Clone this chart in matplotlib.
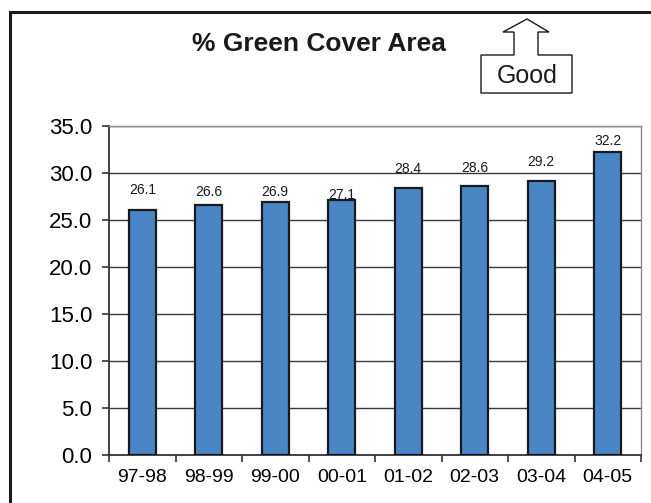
import numpy as np
import matplotlib
matplotlib.use("Agg")
import matplotlib.pyplot as plt
from matplotlib.patches import Rectangle, Polygon

plt.rcParams['font.family'] = ['Liberation Sans', 'DejaVu Sans']

# green cover share by year
years = ['97-98', '98-99', '99-00', '00-01', '01-02', '02-03', '03-04', '04-05']
green_cover = [26.1, 26.6, 26.9, 27.1, 28.4, 28.6, 29.2, 32.2]
# how far each value label sits above its bar (points)
label_lift = [14, 9, 7, 4, 14, 13, 13, 8]

W, H = 651, 503
fig = plt.figure(figsize=(W / 100, H / 100), dpi=100)
fig.patch.set_facecolor('white')

def px(x, y):
    # pixel position (from top-left) -> figure fraction
    return x / W, 1 - y / H

ax = fig.add_axes([109 / W, 48 / H, 532 / W, 329 / H])

x = np.arange(len(years))
ax.bar(x, green_cover, width=0.4, color='#4a86c6', edgecolor='#1a1a1a',
       linewidth=1.6, zorder=3)

for xi, v, lift in zip(x, green_cover, label_lift):
    ax.annotate(f'{v:.1f}', (xi, v), xytext=(0, lift), textcoords='offset points',
                ha='center', va='center', fontsize=10, color='#1a1a1a')

ax.set_xlim(-0.5, len(years) - 0.5)
ax.set_ylim(0, 35)
ax.set_yticks(np.arange(0, 35.1, 5))
ax.set_yticklabels([f'{t:.1f}' for t in np.arange(0, 35.1, 5)])
ax.yaxis.grid(True, color='#3a3a3a', linewidth=1.0, zorder=0)
ax.set_axisbelow(True)

# category ticks sit between bars, labels centred under them
ax.set_xticks(np.arange(-0.5, len(years), 1.0))
ax.set_xticklabels([])
ax.set_xticks(x, minor=True)
ax.set_xticklabels(years, minor=True, fontsize=14)
ax.tick_params(axis='x', which='minor', length=0, pad=10)
ax.tick_params(axis='x', which='major', length=5, width=1.2, color='#333333')
ax.tick_params(axis='y', labelsize=16, length=5, width=1.2, color='#333333', pad=7)

for side in ['left', 'bottom']:
    ax.spines[side].set_color('#333333')
    ax.spines[side].set_linewidth(1.3)
for side in ['top', 'right']:
    ax.spines[side].set_color('#8a8a8a')
    ax.spines[side].set_linewidth(1.0)

# outer frame
fig.patches.append(Rectangle(px(10, 520), 700 / W, 508 / H, transform=fig.transFigure,
                             fill=False, edgecolor='#1a1a1a', linewidth=2.2))

tx, ty = px(319, 51)
fig.text(tx, ty, '% Green Cover Area', ha='center', va='baseline',
         fontsize=19, fontweight='bold', color='#1a1a1a')

# "Good" box with arrow pointing up
arrow = [(481, 93), (481, 55), (514, 55), (514, 32), (503, 32), (527, 19),
         (549, 32), (538, 32), (538, 55), (572, 55), (572, 93)]
fig.patches.append(Polygon([px(a, b) for a, b in arrow], closed=True,
                           transform=fig.transFigure, facecolor='white',
                           edgecolor='#1a1a1a', linewidth=1.0))
gx, gy = px(527, 83)
fig.text(gx, gy, 'Good', ha='center', va='baseline', fontsize=18, color='#1a1a1a')

fig.savefig('out.png', dpi=100)
